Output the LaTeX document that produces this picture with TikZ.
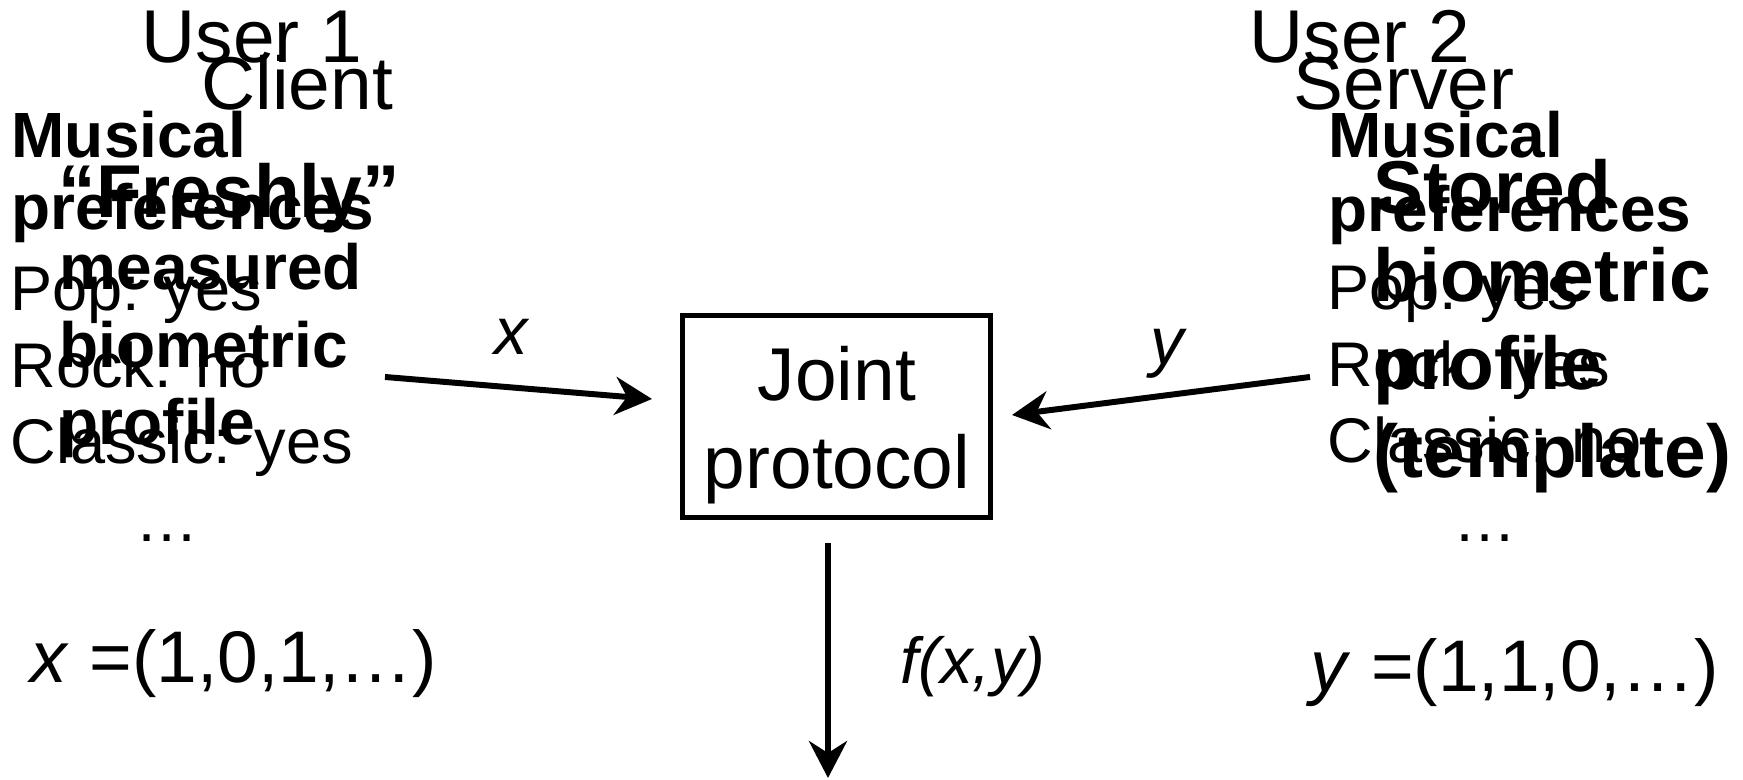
\documentclass[tikz,border=0pt]{standalone}
\usepackage{fontspec}
\setmainfont{Liberation Sans}
\usetikzlibrary{arrows.meta}

\tikzset{
  txt/.style={inner sep=0pt, anchor=base west},
  big/.style={txt, font=\fontsize{21.3}{25.5}\selectfont},
  mid/.style={txt, font=\fontsize{17.95}{21}\selectfont},
  midbold/.style={txt, font=\fontsize{18.2}{21}\selectfont\bfseries},
  bigbold/.style={txt, font=\fontsize{21.3}{25.5}\selectfont\bfseries},
  vec/.style={txt, font=\fontsize{20.8}{25}\selectfont},
  lbl/.style={txt, font=\fontsize{19}{23}\selectfont\itshape},
  flow/.style={line width=1.7pt, -{Stealth[length=10.5pt, width=10.8pt, inset=3.4pt]}}
}

\begin{document}
\begin{tikzpicture}
      \useasboundingbox (0,0) rectangle (17.43,7.80);
      % user 1
      \node[big] (user1) at (1.41,7.17) {User 1};
      \node[big] (client) at (2.01,6.70) {Client};
      \node[midbold] (mus1) at (0.11,6.22) {Musical};
      \node[midbold] (pref1) at (0.11,5.50) {preferences};
      \node[bigbold] (fresh) at (0.58,5.62) {``Freshly''};
      \node[midbold] (meas) at (0.59,4.90) {measured};
      \node[midbold] (bio1) at (0.59,4.12) {biometric};
      \node[midbold] (prof1) at (0.59,3.35) {profile};
      \node[mid] (pop1) at (0.10,4.69) {Pop: yes};
      \node[mid] (rock1) at (0.10,3.92) {Rock: no};
      \node[mid] (cls1) at (0.10,3.16) {Classic: yes};
      \node[mid] (dots1) at (1.35,2.38) {…};
      \node[vec] (vecx) at (0.30,0.97) {\textit{x} =(1,0,1,…)};
      % user 2
      \node[big] (user2) at (12.49,7.17) {User 2};
      \node[big] (server) at (12.93,6.70) {Server};
      \node[midbold] (mus2) at (13.28,6.22) {Musical};
      \node[midbold] (pref2) at (13.28,5.48) {preferences};
      \node[bigbold] (stored) at (13.73,5.66) {Stored};
      \node[bigbold] (bio2) at (13.73,4.78) {biometric};
      \node[bigbold] (prof2) at (13.73,3.90) {profile};
      \node[bigbold] (templ) at (13.73,3.02) {(template)};
      \node[mid] (pop2) at (13.27,4.70) {Pop: yes};
      \node[mid] (rock2) at (13.27,3.93) {Rock: yes};
      \node[mid] (cls2) at (13.27,3.17) {Classic: no};
      \node[mid] (dots2) at (14.53,2.38) {…};
      \node[vec] (vecy) at (13.10,0.88) {\textit{y} =(1,1,0,…)};
      % protocol
      \node[draw, line width=1.4pt, minimum width=3.08cm, minimum height=2.02cm] (proto) at (8.365,3.635) {};
      \node[font=\fontsize{21.3}{25}\selectfont, align=center, inner sep=0pt] (protolbl) at (8.37,3.55) {Joint~\\protocol};
      \coordinate (xsrc) at (3.85,4.03);
      \coordinate (xin) at (6.52,3.81);
      \coordinate (ysrc) at (13.10,4.03);
      \coordinate (yin) at (10.12,3.65);
      \coordinate (fout) at (8.28,2.37);
      \coordinate (fend) at (8.28,0.02);
      \draw[flow] (xsrc) -- (xin);
      \draw[flow] (ysrc) -- (yin);
      \draw[flow] (fout) -- (fend);
      \node[lbl] (xlbl) at (4.94,4.25) {x};
      \node[lbl] (ylbl) at (11.50,4.15) {y};
      \node[txt, font=\fontsize{18.5}{22}\selectfont\itshape] (flbl) at (9.00,0.96) {f(x,y)};
\end{tikzpicture}
\end{document}
